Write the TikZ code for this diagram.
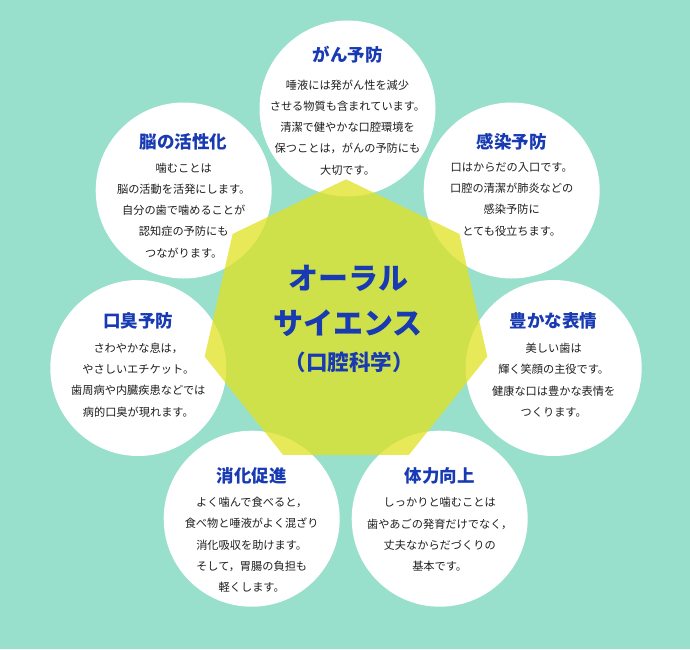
\documentclass[tikz,border=0pt]{standalone}
\usepackage{fontspec}
\usetikzlibrary{calc}
\newfontfamily\jp{Noto Sans CJK JP}
\definecolor{mint}{RGB}{152,223,204}
\definecolor{hepta}{RGB}{225,226,30}
\definecolor{titleblue}{RGB}{24,58,178}
\definecolor{bodyink}{RGB}{30,30,30}
\tikzset{
  bubble/.style={circle, fill=white, minimum size=176pt, inner sep=0pt},
  ttl/.style={font=\jp\bfseries\fontsize{17.5}{20}\selectfont, text=titleblue, inner sep=0pt, anchor=center},
  bodytxt/.style={font=\jp\fontsize{11.2}{21.3}\selectfont, text=bodyink, align=center, inner sep=0pt, anchor=center},
  centertxt/.style={font=\jp\bfseries, text=titleblue, inner sep=0pt, anchor=center}
}
\begin{document}
\begin{tikzpicture}[x=1pt,y=-1pt]
\fill[mint] (0,0) rectangle (690,649);
\useasboundingbox (0,0) rectangle (690,649);
% circles
\node[bubble] (c1) at (347.5,108.5) {};
\node[bubble] (c2) at (511.7,190.5) {};
\node[bubble] (c3) at (553.7,368) {};
\node[bubble] (c4) at (439.7,518.7) {};
\node[bubble] (c5) at (251.7,518.7) {};
\node[bubble] (c6) at (138.3,368) {};
\node[bubble] (c7) at (183.7,190.5) {};
% heptagon
\coordinate (hc) at (346,324.3);
\fill[hepta, fill opacity=0.74]
  ($(hc)+(-90:145)$)
  -- ($(hc)+(-38.571:145)$)
  -- ($(hc)+(12.857:145)$)
  -- ($(hc)+(64.286:145)$)
  -- ($(hc)+(115.714:145)$)
  -- ($(hc)+(167.143:145)$)
  -- ($(hc)+(218.571:145)$) -- cycle;
% centre text
\node[centertxt, font=\jp\bfseries\fontsize{30}{36}\selectfont] (m1) at (348.5,278.3) {オーラル};
\node[centertxt, font=\jp\bfseries\fontsize{30}{36}\selectfont] (m2) at (348.3,323.3) {サイエンス};
\node[centertxt, font=\jp\bfseries\fontsize{21.5}{26}\selectfont] (m3) at (349,362.5) {（口腔科学）};
% titles
\node[ttl] (t1) at (347.5,55) {がん予防};
\node[ttl] (t2) at (511.7,141.7) {感染予防};
\node[ttl] (t3) at (553.7,320.7) {豊かな表情};
\node[ttl] (t4) at (439.7,475.7) {体力向上};
\node[ttl] (t5) at (251.7,475.7) {消化促進};
\node[ttl] (t6) at (138.3,320.7) {口臭予防};
\node[ttl] (t7) at (183.7,141.7) {脳の活性化};
% bodies
\node[bodytxt] (b1) at (347.5,127.4) {唾液には発がん性を減少\\させる物質も含まれています。\\清潔で健やかな口腔環境を\\保つことは，がんの予防にも\\大切です。};
\node[bodytxt] (b2) at (511.7,199.2) {口はからだの入口です。\\口腔の清潔が肺炎などの\\感染予防に\\とても役立ちます。};
\node[bodytxt] (b3) at (553.7,380) {美しい歯は\\輝く笑顔の主役です。\\健康な口は豊かな表情を\\つくります。};
\node[bodytxt] (b4) at (439.7,534.6) {しっかりと噛むことは\\歯やあごの発育だけでなく，\\丈夫なからだづくりの\\基本です。};
\node[bodytxt] (b5) at (251.7,545) {よく噛んで食べると，\\食べ物と唾液がよく混ざり\\消化吸収を助けます。\\そして，胃腸の負担も\\軽くします。};
\node[bodytxt] (b6) at (138.3,380) {さわやかな息は，\\やさしいエチケット。\\歯周病や内臓疾患などでは\\病的口臭が現れます。};
\node[bodytxt] (b7) at (183.7,210.3) {噛むことは\\脳の活動を活発にします。\\自分の歯で噛めることが\\認知症の予防にも\\つながります。};
\end{tikzpicture}
\end{document}
